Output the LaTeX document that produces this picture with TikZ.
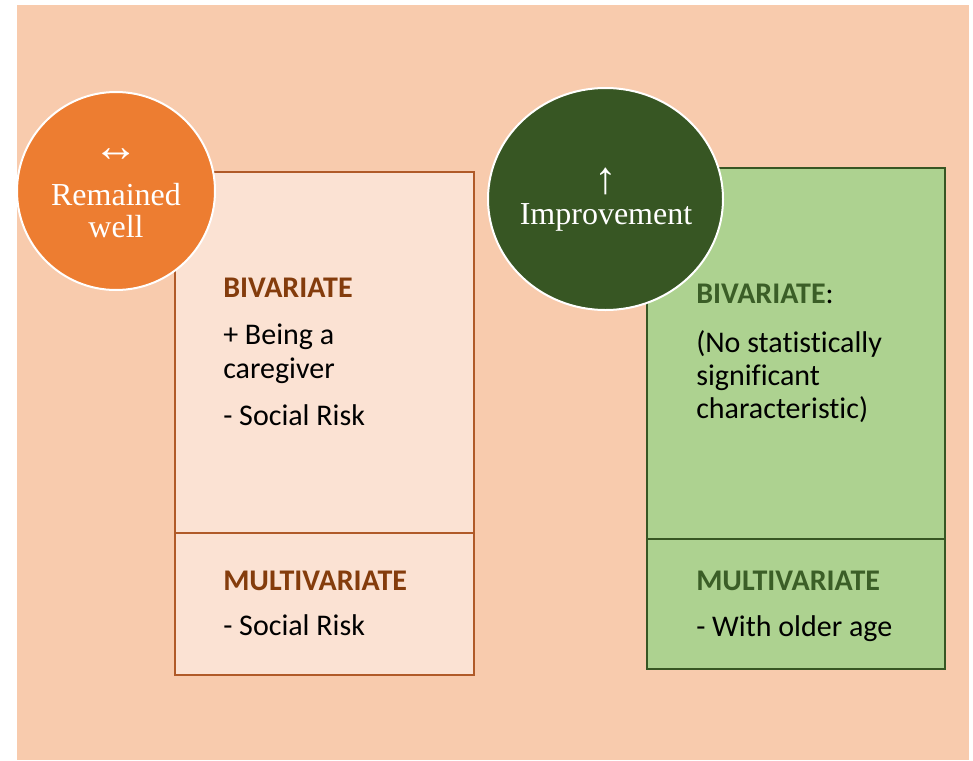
\documentclass[tikz,border=0pt]{standalone}
\usepackage{fontspec}
\setmainfont[Ligatures={NoCommon}]{Carlito}
\newfontfamily\circfont{Liberation Serif}
\definecolor{peachbg}{HTML}{F8CBAD}
\definecolor{peachbox}{HTML}{FBE2D3}
\definecolor{brownline}{HTML}{B05A28}
\definecolor{brownhead}{HTML}{843C0C}
\definecolor{orangecirc}{HTML}{ED7D31}
\definecolor{greencirc}{HTML}{375623}
\definecolor{greenbox}{HTML}{ADD290}
\definecolor{greenhead}{HTML}{3B5E27}
\tikzset{
  boxtxt/.style={anchor=base west, inner sep=0pt, font=\fontsize{22.5}{26}\selectfont},
  headL/.style={boxtxt, font=\fontsize{22.5}{26}\selectfont\bfseries, text=brownhead},
  headR/.style={boxtxt, font=\fontsize{22.5}{26}\selectfont\bfseries, text=greenhead},
  circtxt/.style={anchor=base, inner sep=0pt, text=white, font=\circfont\fontsize{24}{28}\selectfont},
  circarrow/.style={circtxt, font=\circfont\fontsize{34}{38}\selectfont},
}
\begin{document}
\begin{tikzpicture}[x=0.75pt,y=0.75pt,yscale=-1,xscale=1]
\useasboundingbox (0,0) rectangle (973,760);
%Background
\fill [peachbg] (17,5) rectangle (969,760);

%Rectangle: left box
\draw [brownline, line width=1.5pt, fill=peachbox] (175,172) rectangle (474,675);
\draw [brownline, line width=1.5pt] (175,533) -- (474,533);
%Rectangle: right box
\draw [greencirc, line width=1.5pt, fill=greenbox] (647,168) rectangle (945,669);
\draw [greencirc, line width=1.5pt] (647,539) -- (945,539);

%Circle: remained well
\draw [white, line width=1.5pt, fill=orangecirc] (116,191) circle (99);
%Ellipse: improvement
\draw [white, line width=1.5pt, fill=greencirc] (605.5,199) ellipse (117.5 and 111);

% Text Node
\node [circarrow] (arrowL) at (116,161) {↔};
\node [circtxt] (remained) at (116,205) {Remained};
\node [circtxt] (well) at (116,237) {well};
% Text Node
\node [circarrow] (arrowR) at (606,193) {↑};
\node [circtxt] (improve) at (606,224) {Improvement};

% Text Node
\node [headL] (bivL) at (223,297) {BIVARIATE};
\node [boxtxt] (beingL) at (223,344) {+ Being a};
\node [boxtxt] (caregL) at (223,378) {caregiver};
\node [boxtxt] (socL) at (223,425) {- Social Risk};
\node [headL] (multL) at (223,590) {MULTIVARIATE};
\node [boxtxt] (socM) at (223,635) {- Social Risk};
% Text Node
\node [headR] (bivR) at (696,303) {BIVARIATE\textmd{\color{black}:}};
\node [boxtxt] (noR) at (696,352) {(No statistically};
\node [boxtxt] (sigR) at (696,385) {significant};
\node [boxtxt] (charR) at (696,418) {characteristic)};
\node [headR] (multR) at (696,590) {MULTIVARIATE};
\node [boxtxt] (olderR) at (696,636) {- With older age};
\end{tikzpicture}
\end{document}
